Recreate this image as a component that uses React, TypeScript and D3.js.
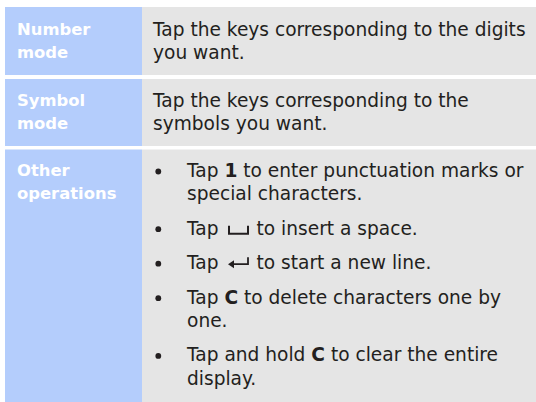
import React from "react";
import * as d3 from "d3";

const W = 536;
const H = 402;

// Row headers (left column), each as lines
const headers: string[][] = [
  ["Number", "mode"],
  ["Symbol", "mode"],
  ["Other", "operations"],
];

// Plain description lines for rows 1 and 2
const descriptions: string[][] = [
  ["Tap the keys corresponding to the digits", "you want."],
  ["Tap the keys corresponding to the", "symbols you want."],
];

// Bullet items of row 3: each line is a list of segments
type Seg = { t?: string; b?: boolean; icon?: "space" | "enter" };
const bullets: Seg[][][] = [
  [
    [{ t: "Tap " }, { t: "1", b: true }, { t: " to enter punctuation marks or" }],
    [{ t: "special characters." }],
  ],
  [[{ t: "Tap " }, { icon: "space" }, { t: "to insert a space." }]],
  [[{ t: "Tap " }, { icon: "enter" }, { t: "to start a new line." }]],
  [
    [{ t: "Tap " }, { t: "C", b: true }, { t: " to delete characters one by" }],
    [{ t: "one." }],
  ],
  [
    [{ t: "Tap and hold " }, { t: "C", b: true }, { t: " to clear the entire" }],
    [{ t: "display." }],
  ],
];

// Row boundaries (top, bottom) in pixels
const rowTops = [7, 79, 149.5];
const rowBottoms = [75, 146, 402];

const BLUE = "#b4cdfc";
const GRAY = "#e5e5e5";
const INK = "#231f20";
const FONT = "'DejaVu Sans', Verdana, sans-serif";
const FS = 18.6;
const HFS = 16.4;
const LH = 23.2;

const colX = d3.scaleOrdinal<string, number>().domain(["left", "mid", "right"]).range([5, 142, W]);

export default function App() {
  const x0 = colX("left");
  const x1 = colX("mid");
  const x2 = colX("right");
  const headX = 17;
  const textX = 153;
  const bulletX = 158.3;
  const bulletTextX = 187;
  const firstBase = [35.5, 106.5, 177];

  const bulletBases: number[][] = [];
  let y = firstBase[2];
  bullets.forEach((item) => {
    const lines: number[] = [];
    item.forEach((_, i) => lines.push(y + i * LH));
    bulletBases.push(lines);
    y = lines[lines.length - 1] + 34.5;
  });

  return (
    <svg
      width={W}
      height={H}
      style={{ position: "absolute", left: 0, top: 0, display: "block" }}
      fontFamily={FONT}
      fontSize={FS}
    >
      <rect x={0} y={0} width={W} height={H} fill="#ffffff" />
      {rowTops.map((t, i) => (
        <g key={i}>
          <rect x={x0} y={t} width={x1 - x0} height={rowBottoms[i] - t} fill={BLUE} />
          <rect x={x1} y={t} width={x2 - x1} height={rowBottoms[i] - t} fill={GRAY} />
        </g>
      ))}
      {headers.map((lines, i) =>
        lines.map((l, j) => (
          <text
            key={`h${i}-${j}`}
            x={headX}
            y={firstBase[i] - 1 + j * LH}
            fill="#ffffff"
            fontWeight="bold"
            fontSize={HFS}
          >
            {l}
          </text>
        ))
      )}
      {descriptions.map((lines, i) =>
        lines.map((l, j) => (
          <text key={`d${i}-${j}`} x={textX} y={firstBase[i] + j * LH} fill={INK}>
            {l}
          </text>
        ))
      )}
      {bullets.map((item, i) => (
        <g key={`b${i}`}>
          <circle cx={bulletX} cy={bulletBases[i][0] - 5.5} r={2.9} fill={INK} />
          {item.map((segs, j) => {
            const base = bulletBases[i][j];
            const iconIdx = segs.findIndex((s) => s.icon);
            if (iconIdx >= 0) {
              const iconSeg = segs[iconIdx];
              const ix = 228;
              const iw = 21;
              const before = segs.slice(0, iconIdx);
              const after = segs.slice(iconIdx + 1);
              return (
                <g key={j}>
                  <text x={bulletTextX} y={base} fill={INK}>
                    {before.map((s) => s.t).join("")}
                  </text>
                  {iconSeg.icon === "space" ? (
                    <path
                      d={`M${ix + 1},${base - 9} V${base - 1} H${ix + iw - 1} V${base - 9}`}
                      fill="none"
                      stroke={INK}
                      strokeWidth={2}
                    />
                  ) : (
                    <g>
                      <path
                        d={`M${ix + iw - 1},${base - 12} V${base - 5} H${ix + 4}`}
                        fill="none"
                        stroke={INK}
                        strokeWidth={1.8}
                      />
                      <path d={`M${ix},${base - 5} L${ix + 6},${base - 9} L${ix + 6},${base - 1} Z`} fill={INK} />
                    </g>
                  )}
                  <text x={256.5} y={base} fill={INK}>
                    {after.map((s) => s.t).join("")}
                  </text>
                </g>
              );
            }
            return (
              <text key={j} x={bulletTextX} y={base} fill={INK} style={{ whiteSpace: "pre" }}>
                {segs.map((s, k) => (
                  <tspan key={k} fontWeight={s.b ? "bold" : "normal"}>
                    {s.t}
                  </tspan>
                ))}
              </text>
            );
          })}
        </g>
      ))}
    </svg>
  );
}
